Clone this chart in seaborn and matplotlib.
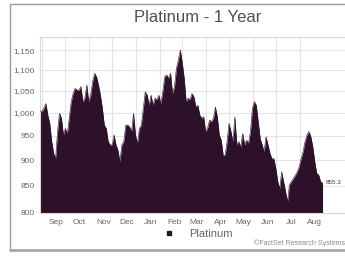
"""Platinum - 1 Year price chart (FactSet style), filled area on a log axis."""
import matplotlib
matplotlib.use("Agg")
import matplotlib.pyplot as plt
import pandas as pd
import seaborn as sns
from matplotlib.lines import Line2D
from matplotlib.patches import Rectangle
from matplotlib.ticker import FixedLocator, NullLocator

START = "2021-08-30"
END = "2022-08-30"
PRICES = [
    1005, 1002, 1010, 1021, 995, 977, 938, 914, 903, 959, 999, 988, 952, 966, 955,
    988, 1025, 1044, 1056, 1052, 1052, 1060, 1025, 1033, 1064, 1025, 1040, 1072,
    1092, 1084, 1064, 1040, 1010, 973, 966, 938, 931, 931, 952, 931, 920, 897, 931,
    938, 973, 973, 969, 959, 999, 952, 934, 966, 973, 1010, 1048, 1040, 1017, 1040,
    1017, 1033, 1030, 1040, 1021, 1048, 1084, 1088, 1080, 1092, 1044, 1060, 1104,
    1125, 1150, 1118, 1080, 1025, 1033, 1030, 1044, 1036, 1013, 1017, 995, 988, 991,
    959, 966, 984, 980, 988, 1013, 991, 952, 941, 910, 910, 938, 977, 959, 938, 991,
    931, 938, 927, 955, 931, 941, 934, 959, 1010, 1025, 1017, 980, 944, 931, 917,
    948, 931, 914, 903, 903, 884, 858, 845, 877, 858, 839, 820, 852, 858, 864, 870,
    877, 887, 903, 917, 938, 952, 959, 948, 927, 897, 874, 871, 858, 855.3,
]
MONTHS = ["Sep", "Oct", "Nov", "Dec", "Jan", "Feb", "Mar", "Apr", "May", "Jun", "Jul", "Aug"]
Y_TICKS = [800, 850, 900, 950, 1000, 1050, 1100, 1150]
SERIES_NAME = "Platinum"

FILL = "#2d1029"
TEXT = "#666666"
GRID = "#e4e4e4"

df = pd.DataFrame({
    "date": pd.date_range(START, END, periods=len(PRICES)),
    "price": PRICES,
})

sns.set_style("white")
plt.rcParams["font.family"] = ["Liberation Sans", "DejaVu Sans"]

fig = plt.figure(figsize=(3.45, 2.6), dpi=100)
ax = fig.add_axes([40 / 345, 1 - 213 / 260, 305 / 345, 176 / 260])

ax.set_yscale("log")
ax.fill_between(df["date"], df["price"], 800, color=FILL, linewidth=0, zorder=2)
sns.lineplot(data=df, x="date", y="price", color=FILL, linewidth=0.4, ax=ax, zorder=3)

ax.set_ylim(800, 1184)
ax.set_xlim(pd.Timestamp(START), pd.Timestamp("2022-09-28"))
ax.yaxis.set_major_locator(FixedLocator(Y_TICKS))
ax.yaxis.set_minor_locator(NullLocator())
ax.set_yticklabels([f"{v:,}" for v in Y_TICKS])

# gridlines on month starts, month names centred in each month
month_starts = pd.date_range("2021-09-01", periods=12, freq="MS")
ax.set_xticks(month_starts)
ax.set_xticklabels([])
ax.set_xticks(month_starts + pd.Timedelta(days=19), minor=True)
ax.set_xticklabels(MONTHS, minor=True)

ax.tick_params(axis="both", which="both", length=0, labelsize=6, colors=TEXT)
ax.tick_params(axis="x", which="minor", pad=4)
ax.tick_params(axis="y", pad=4)
ax.grid(True, which="major", color=GRID, linewidth=0.8, zorder=0)
ax.set_axisbelow(True)
ax.set_xlabel("")
ax.set_ylabel("")
for side in ["left", "top", "right", "bottom"]:
    ax.spines[side].set_color("#d8d8d8")
    ax.spines[side].set_linewidth(0.8)
ax.spines["right"].set_visible(False)

ax.annotate(f"{PRICES[-1]:.1f}", xy=(df["date"].iloc[-1], PRICES[-1]),
            xytext=(2, 0), textcoords="offset points", va="center", ha="left",
            fontsize=4.5, color="#333333")

fig.text(198 / 345, 1 - 17 / 260, "Platinum - 1 Year", ha="center", va="center",
         fontsize=12, color="#505050")

handle = Line2D([], [], marker="s", linestyle="", markersize=3.5,
                markerfacecolor=FILL, markeredgecolor=FILL)
fig.legend([handle], [SERIES_NAME], loc="center", bbox_to_anchor=(195 / 345, 1 - 234 / 260),
           frameon=False, fontsize=8, handletextpad=0.8, labelcolor=TEXT)

fig.text(1.0, 1 - 243 / 260, "\u00a9FactSet Research Systems", ha="right", va="center",
         fontsize=5, color="#8a8a8a")

# outer frame of the original screenshot
fig.add_artist(Rectangle((10 / 345, 10 / 260), 1.0, 246 / 260, transform=fig.transFigure,
                         fill=False, edgecolor="#9a9a9a", linewidth=1))
fig.add_artist(Line2D([10 / 345, 1], [10 / 260, 10 / 260], transform=fig.transFigure,
                      color="#a8a8a8", linewidth=2))

fig.savefig("out.png", dpi=100)
